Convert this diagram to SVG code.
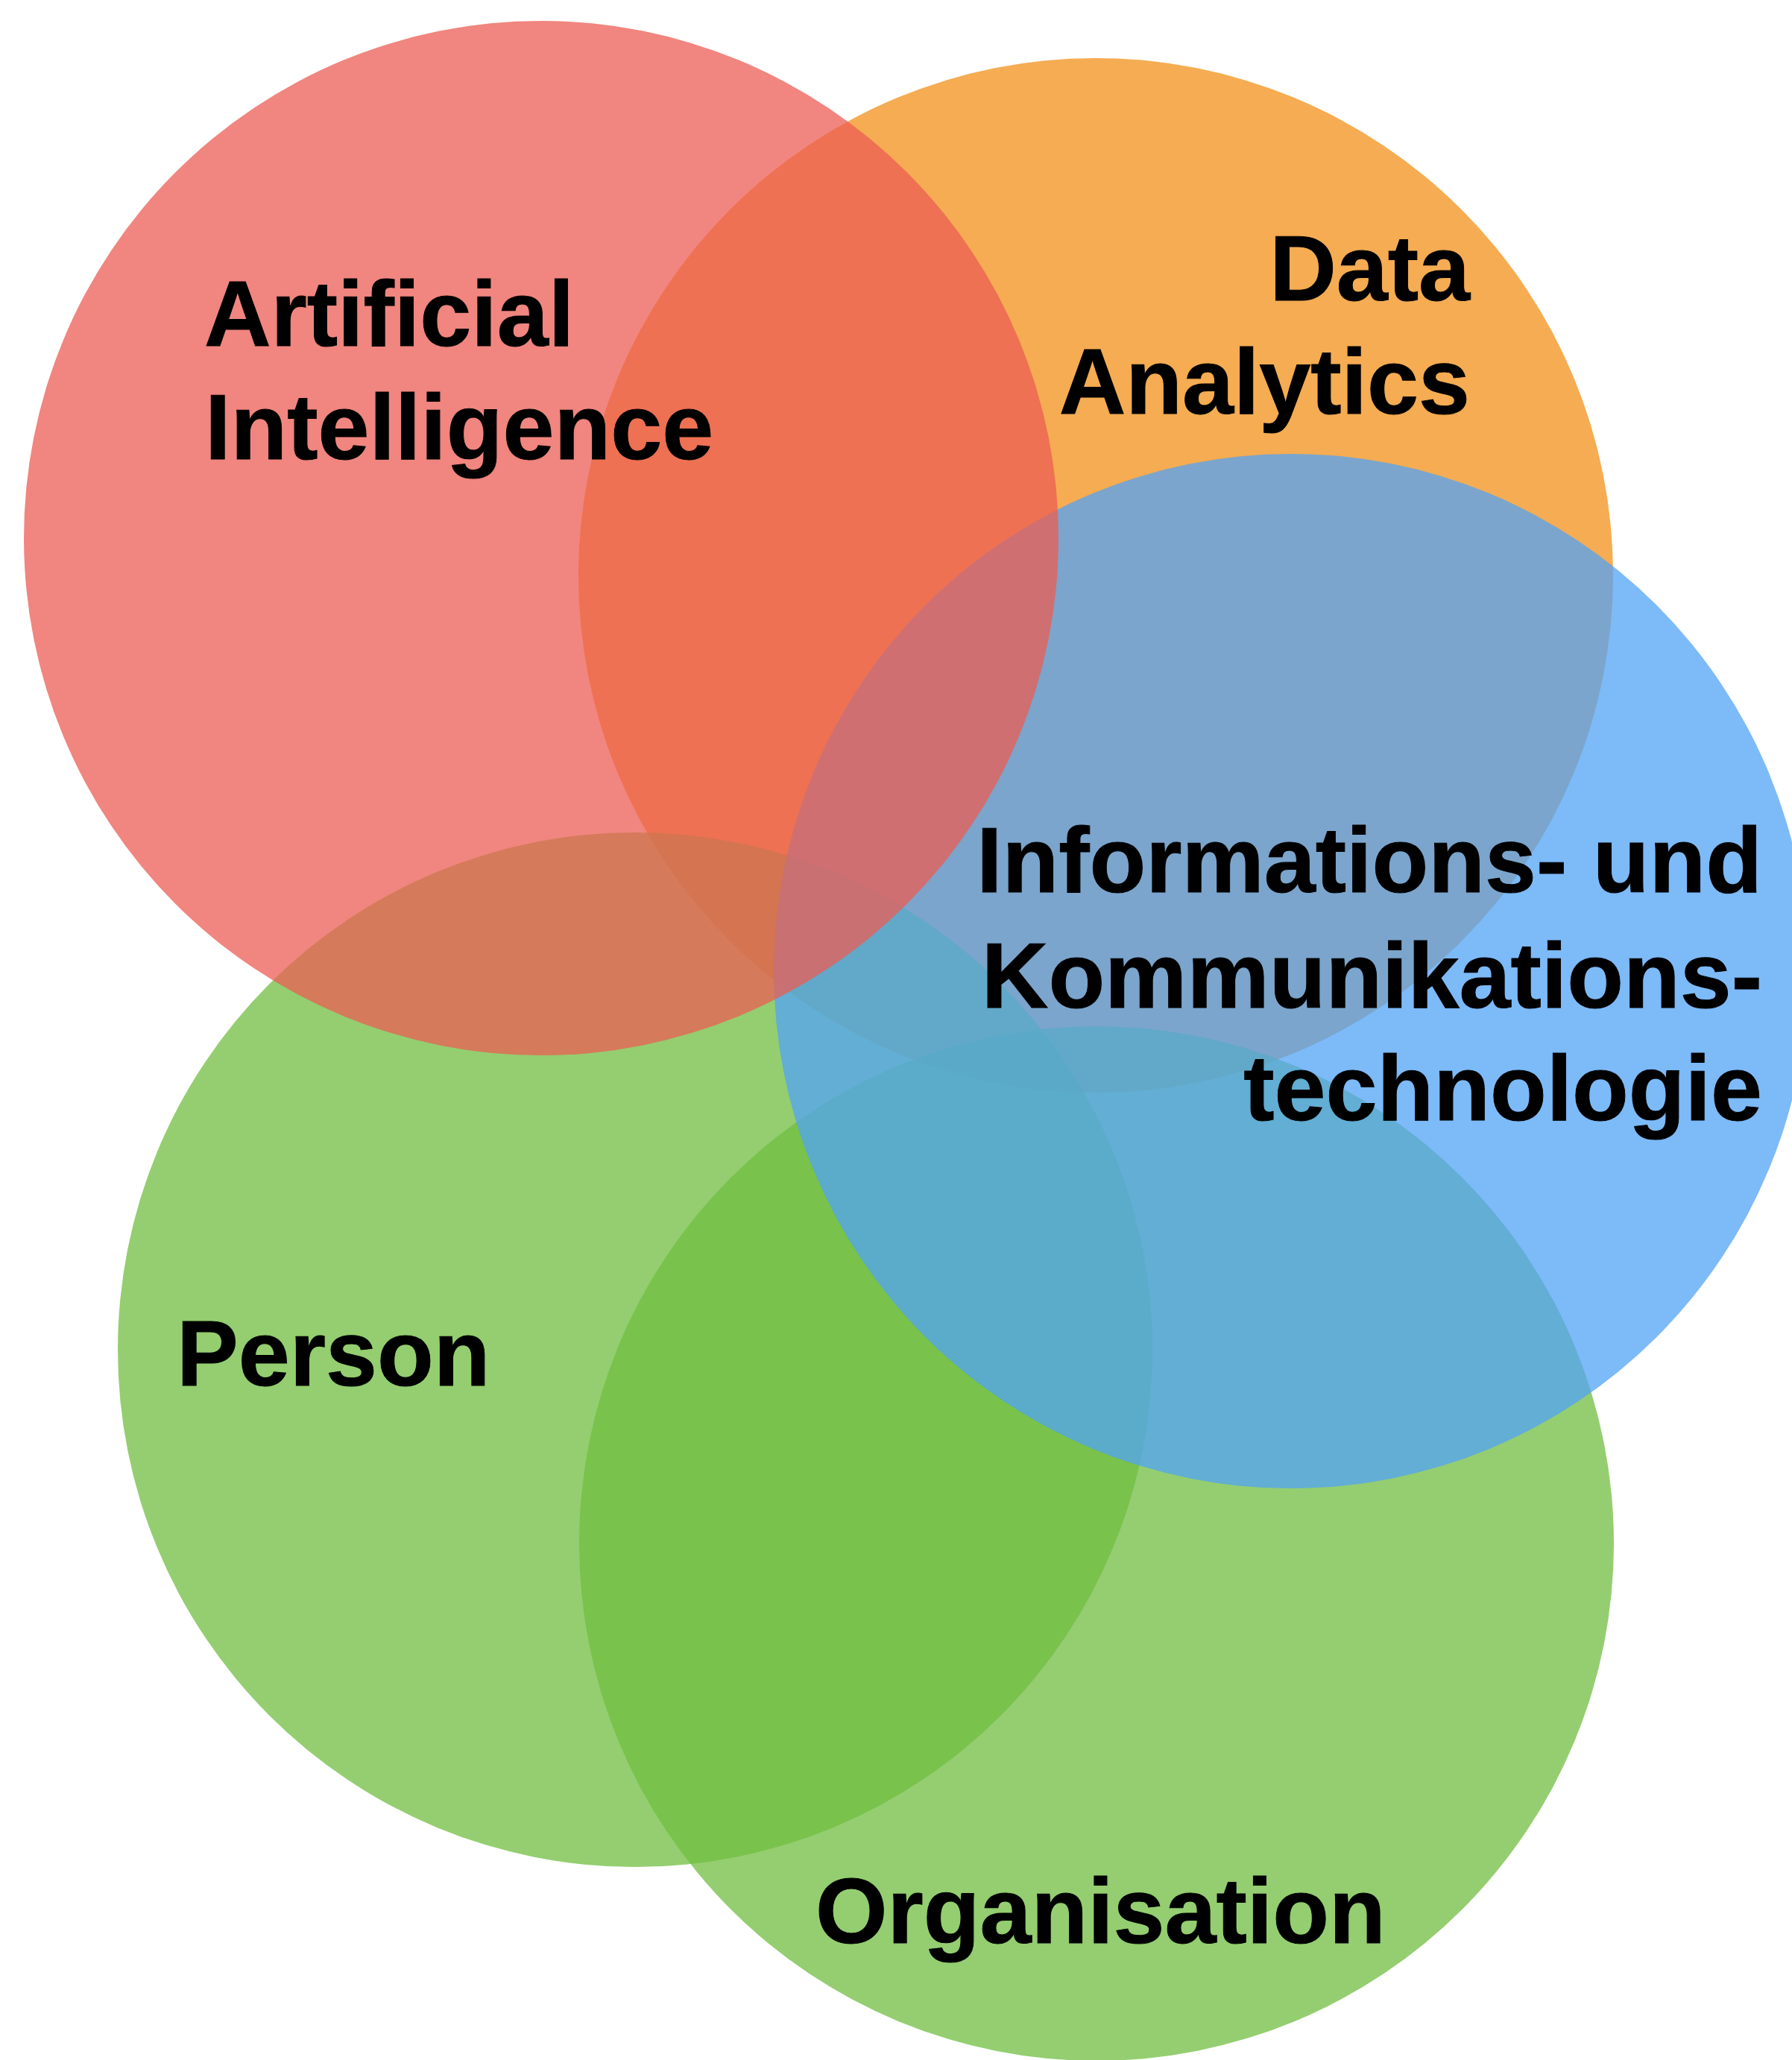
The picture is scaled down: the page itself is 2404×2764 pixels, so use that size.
<svg xmlns="http://www.w3.org/2000/svg" width="2404" height="2764" viewBox="0 0 2404 2764">
<style>
.c{fill-opacity:0.75}
.t{font-family:"Liberation Sans",Arial,Helvetica,sans-serif;font-weight:bold;font-size:124px;fill:#000;stroke:#000;stroke-width:1}
.e{text-anchor:end}
</style>
<rect x="0" y="0" width="2404" height="2764" fill="#ffffff"/>
<g id="data-analytics">
<circle class="c" cx="1470" cy="772" r="694" fill="#F29018"/>
<text class="t e" x="1972" y="403">Data</text>
<text class="t e" x="1972" y="555">Analytics</text>
</g>
<g id="person">
<circle class="c" cx="852" cy="1811" r="694" fill="#70BE40"/>
<text class="t" x="237" y="1859">Person</text>
</g>
<g id="organisation">
<circle class="c" cx="1471" cy="2071" r="694" fill="#70BE40"/>
<text class="t" x="1094" y="2607">Organisation</text>
</g>
<g id="ikt">
<circle class="c" cx="1732" cy="1303" r="694" fill="#52A3F6"/>
<text class="t e" x="2364" y="1197">Informations- und</text>
<text class="t e" x="2364" y="1352">Kommunikations-</text>
<text class="t e" x="2364" y="1503">technologie</text>
</g>
<g id="artificial-intelligence">
<circle class="c" cx="726" cy="722" r="694" fill="#EB5E54"/>
<text class="t" x="274" y="464">Artificial</text>
<text class="t" x="275" y="616">Intelligence</text>
</g>
<g id="connectors"></g>
</svg>
